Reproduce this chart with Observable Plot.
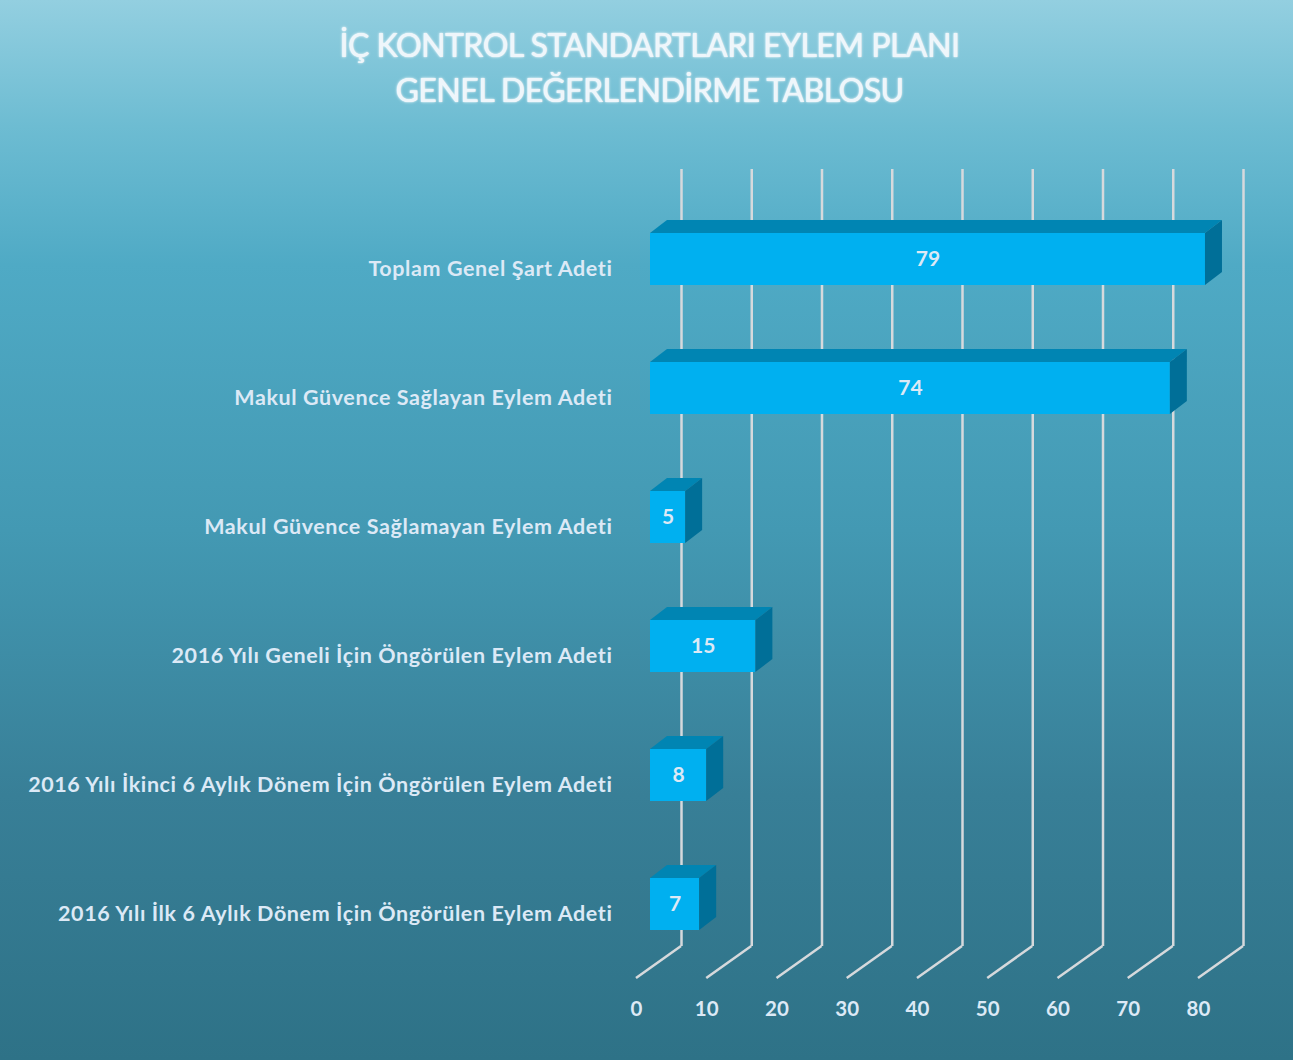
<!DOCTYPE html>
<html>
<head>
<meta charset="utf-8">
<script src="https://cdn.jsdelivr.net/npm/d3@7"></script>
<script src="https://cdn.jsdelivr.net/npm/@observablehq/plot@0.6"></script>
<style>
  html, body { margin: 0; padding: 0; }
  body {
    width: 1299px; height: 1060px; overflow: hidden; position: relative;
    background: linear-gradient(180deg, #93cfe0 0%, #6dbcd2 12%, #4faac5 25%, #4399b3 50%, #387f97 75%, #2e7287 100%);
    font-family: Lato, "Open Sans", sans-serif;
  }
  #title {
    height: 130px; box-sizing: border-box; padding-top: 22px;
    text-align: center; color: #eef6fb; font-size: 32px; line-height: 45px;
    text-shadow: 0 0 3px rgba(255,255,255,0.9), 0 0 1px #fff;
    letter-spacing: -0.5px;
  }
  #edge { position: absolute; right: 0; top: 0; width: 6px; height: 1060px; background: #fff; }
  svg text { font-family: Lato, "Open Sans", sans-serif; font-weight: bold; }
  svg g[aria-label="y-axis tick label"] text { letter-spacing: 0.6px; }
</style>
</head>
<body>
<div id="title">İÇ KONTROL STANDARTLARI EYLEM PLANI<br>GENEL DEĞERLENDİRME TABLOSU</div>
<div id="chart"></div>
<div id="edge"></div>
<script>
const categories = [
  "Toplam Genel Şart Adeti",
  "Makul Güvence Sağlayan Eylem Adeti",
  "Makul Güvence Sağlamayan Eylem Adeti",
  "2016 Yılı Geneli İçin Öngörülen Eylem Adeti",
  "2016 Yılı İkinci 6 Aylık Dönem İçin Öngörülen Eylem Adeti",
  "2016 Yılı İlk 6 Aylık Dönem İçin Öngörülen Eylem Adeti"
];
const values = [79, 74, 5, 15, 8, 7];
const xTicks = [0, 10, 20, 30, 40, 50, 60, 70, 80];

const data = categories.map((c, i) => ({cat: c, value: values[i]}));

// 3D depth offsets (pixels)
const DX = 17, DY = 13;       // bar depth
const WALL_DX = 31;           // back wall offset from bar front
const FLOOR_DX = -14, FLOOR_DY = 32; // front floor edge offset from bar front at floor

const FRONT = "#00b0f0", TOP = "#0085b3", SIDE = "#006f98";
const GRID = "#d6d9dc", LABEL = "#dce9f6";

function barFaces(index, scales, vals) {
  const g = d3.create("svg:g");
  const bw = scales.y.bandwidth();
  for (const i of index) {
    const x0 = vals.x1[i], x1 = vals.x2[i], y0 = vals.y[i], y1 = y0 + bw;
    g.append("path").attr("fill", TOP)
      .attr("d", `M${x0},${y0}L${x0 + DX},${y0 - DY}L${x1 + DX},${y0 - DY}L${x1},${y0}Z`);
    g.append("path").attr("fill", SIDE)
      .attr("d", `M${x1},${y0}L${x1 + DX},${y0 - DY}L${x1 + DX},${y1 - DY}L${x1},${y1}Z`);
  }
  return g.node();
}

function floorLines(index, scales, vals, dims) {
  const g = d3.create("svg:g");
  const yb = dims.height - dims.marginBottom;
  for (const i of index) {
    const x = vals.x[i];
    g.append("line")
      .attr("x1", x + WALL_DX).attr("y1", yb)
      .attr("x2", x + FLOOR_DX).attr("y2", yb + FLOOR_DY)
      .attr("stroke", GRID).attr("stroke-width", 2.5);
  }
  return g.node();
}

const chart = Plot.plot({
  width: 1299,
  height: 930,
  marginLeft: 650,
  marginRight: 87,
  marginTop: 39,
  marginBottom: 114,
  style: {background: "transparent", overflow: "visible"},
  x: {domain: [0, 80], range: [650, 1212]},
  y: {domain: categories, range: [63.4, 838.6], paddingInner: 0.5975, paddingOuter: 0.29875},
  marks: [
    Plot.ruleX(xTicks, {x: d => d, dx: WALL_DX, stroke: GRID, strokeWidth: 2.5}),
    Plot.ruleX(xTicks, {x: d => d, render: floorLines}),
    Plot.barX(data, {x: "value", y: "cat", fill: FRONT}),
    Plot.barX(data, {x: "value", y: "cat", render: barFaces}),
    Plot.text(data, {x: d => d.value / 2, y: "cat", text: d => String(d.value), fill: LABEL, fontSize: 21, fontWeight: "bold"}),
    Plot.axisY({tickSize: 0, tickPadding: 38, dy: 10, fontSize: 21.5, color: LABEL, label: null, ariaLabel: "y-axis"}),
    Plot.axisX({ticks: xTicks, tickSize: 0, tickPadding: 55, dx: -14, fontSize: 20.5, color: LABEL, label: null})
  ]
});
document.getElementById("chart").appendChild(chart);
</script>
</body>
</html>
